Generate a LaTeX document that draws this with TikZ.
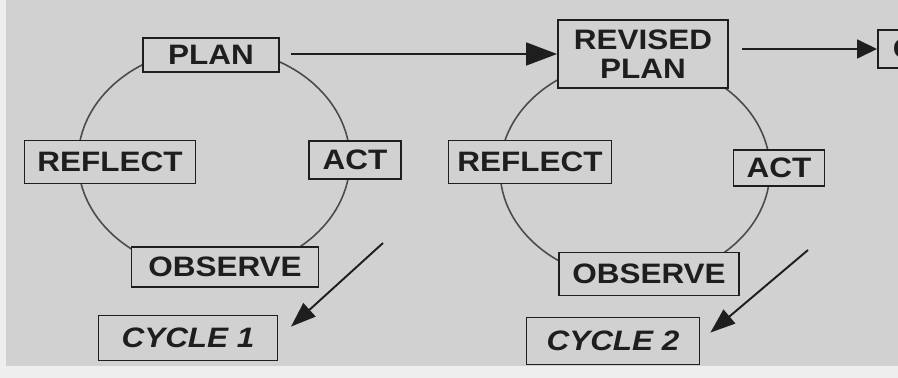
\documentclass[tikz,border=0pt]{standalone}
\usepackage{fontspec}
\setmainfont{Liberation Sans}[FakeStretch=1.12]
\usetikzlibrary{arrows.meta}
\definecolor{scangray}{RGB}{209,209,209}
\definecolor{paper}{RGB}{238,238,238}
\definecolor{ink}{RGB}{30,30,30}
\definecolor{pencil}{RGB}{75,75,75}

\begin{document}
\begin{tikzpicture}[
        x=0.02cm, y=-0.02cm,
        stage/.style={
            draw=ink,
            line width=1.1pt,
            fill=scangray,
            text=ink,
            inner sep=0pt,
            align=center,
            font=\fontsize{16}{16.5}\selectfont\bfseries
        },
        cyclebox/.style={
            stage,
            font=\fontsize{16}{16.5}\selectfont\bfseries\itshape
        },
        ring/.style={draw=pencil, line width=0.9pt},
        flow/.style={draw=ink, line width=1pt,
            -{Triangle[length=0.62cm,width=0.46cm]}},
        flowshort/.style={draw=ink, line width=1pt,
            -{Triangle[length=0.4cm,width=0.38cm]}},
        drift/.style={draw=ink, line width=1.1pt,
            -{Triangle[length=0.5cm,width=0.36cm]}}
    ]

    % scanned page
    \clip (0,0) rectangle (898,378);
    \fill[paper] (0,0) rectangle (898,378);
    \fill[scangray] (6,0) rectangle (898,366);

    % the two loops
    \draw[ring] (214,160) ellipse [x radius=2.72cm, y radius=2.24cm];
    \draw[ring] (635,170) ellipse [x radius=2.7cm, y radius=2.2cm];

    % cycle 1
    \node[stage, minimum width=2.72cm, minimum height=0.68cm] (plan1) at (211,55) {PLAN};
    \node[stage, minimum width=3.42cm, minimum height=0.86cm] (reflect1) at (110,162) {REFLECT};
    \node[stage, minimum width=1.84cm, minimum height=0.76cm] (act1) at (355,160) {ACT};
    \node[stage, minimum width=3.74cm, minimum height=0.8cm] (observe1) at (225,267) {OBSERVE};
    \node[cyclebox, minimum width=3.58cm, minimum height=0.9cm] (cycle1) at (188,338) {CYCLE 1};

    % cycle 2
    \node[stage, minimum width=3.4cm, minimum height=1.36cm] (revised) at (643,54) {REVISED\\PLAN};
    \node[stage, minimum width=3.26cm, minimum height=0.86cm] (reflect2) at (530,162) {REFLECT};
    \node[stage, minimum width=1.82cm, minimum height=0.72cm] (act2) at (779,168) {ACT};
    \node[stage, minimum width=3.6cm, minimum height=0.86cm] (observe2) at (649,274) {OBSERVE};
    \node[cyclebox, minimum width=3.46cm, minimum height=0.94cm] (cycle2) at (613,341) {CYCLE 2};

    % next cycle, cut off by the page edge
    \node[stage, anchor=west, minimum height=0.76cm, text width=2cm,
          align=left, inner xsep=0.3cm] (next) at (877,49) {C};

    % connectors
    \draw[flow, shorten <=0.22cm] (plan1.east |- revised.west) -- (revised.west);
    \draw[flowshort, shorten <=0.26cm] (revised.east |- next.west) -- (next.west);

    \coordinate (tail1) at (383,243);
    \coordinate (tail2) at (808,250);
    \draw[drift, shorten >=0.34cm] (tail1) -- (cycle1.east);
    \draw[drift, shorten >=0.26cm] (tail2) -- (cycle2.east);

\end{tikzpicture}
\end{document}
